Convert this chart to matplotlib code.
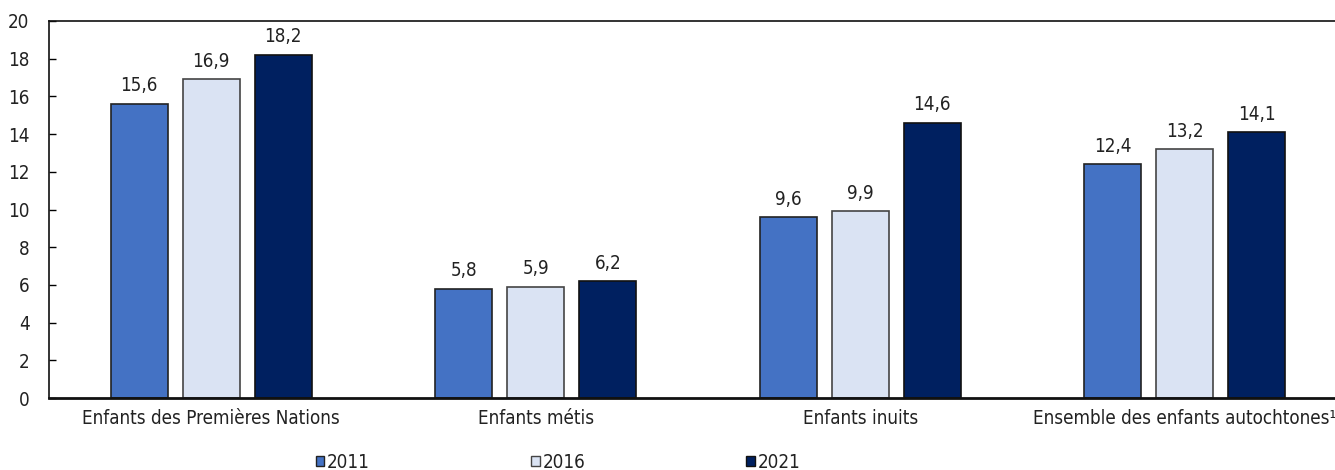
import matplotlib
matplotlib.use("Agg")
import matplotlib.pyplot as plt
import matplotlib.patches as mpatches
import numpy as np

plt.rcParams['font.family'] = ['DejaVu Sans']
plt.rcParams['font.stretch'] = 'condensed'

categories = ["Enfants des Premières Nations", "Enfants métis", "Enfants inuits",
              "Ensemble des enfants autochtones¹"]
years = ["2011", "2016", "2021"]
v2011 = [15.6, 5.8, 9.6, 12.4]
v2016 = [16.9, 5.9, 9.9, 13.2]
v2021 = [18.2, 6.2, 14.6, 14.1]
colors = ["#4472c4", "#dae3f3", "#002060"]
edges = ["#222222", "#444444", "#111111"]

txt = "#222222"
fs = 13.5

fig = plt.figure(figsize=(13.35, 4.7), dpi=100)
ax = fig.add_axes([49/1335, 72/470, 1 - 49/1335, 377/470])

x = np.arange(len(categories))
w = 0.176
step = 0.222
for i, (vals, c, ec) in enumerate(zip([v2011, v2016, v2021], colors, edges)):
    bars = ax.bar(x + (i - 1) * step, vals, w, color=c, edgecolor=ec, linewidth=1.2,
                  label=years[i], zorder=2)
    for b, v in zip(bars, vals):
        ax.text(b.get_x() + b.get_width()/2, v + 0.45, ("%.1f" % v).replace(".", ","),
                ha="center", va="bottom", fontsize=fs, color=txt)

ax.set_xlim(-0.5, 3.5 - 12/324.5)
ax.set_ylim(0, 20)
ax.set_yticks(range(0, 21, 2))
ax.tick_params(axis="y", direction="in", length=5, width=1, labelsize=fs,
               labelcolor=txt, pad=14)
ax.set_xticks(x)
ax.set_xticklabels(categories, fontsize=fs, color=txt)
ax.tick_params(axis="x", length=0, pad=8)
ax.spines["right"].set_visible(False)
for s in ["left", "top"]:
    ax.spines[s].set_linewidth(1.2)
    ax.spines[s].set_color("#111111")
ax.spines["bottom"].set_linewidth(2)
ax.spines["bottom"].set_color("#111111")

handles = [mpatches.Patch(facecolor=c, edgecolor=ec, linewidth=1) for c, ec in zip(colors, edges)]
fig.legend(handles, years, loc="center", bbox_to_anchor=(558/1335, 8/470), ncol=3,
           frameon=False, fontsize=fs, handlelength=0.45, handleheight=0.45,
           handletextpad=0.15, columnspacing=8.6, labelcolor=txt, borderpad=0)

fig.savefig("out.png", dpi=100)
